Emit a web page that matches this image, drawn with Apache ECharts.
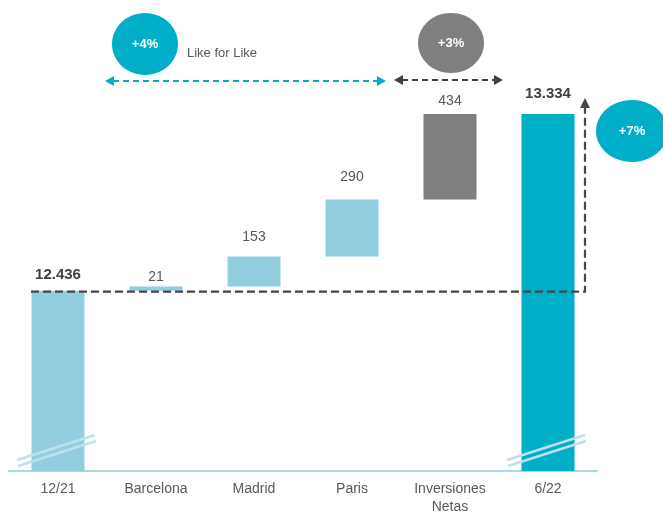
<!DOCTYPE html>
<html><head><meta charset="utf-8">
<script src="https://cdn.jsdelivr.net/npm/echarts@6/dist/echarts.min.js"></script>
<style>html,body{margin:0;padding:0;background:#fff}#c{width:663px;height:516px}</style>
</head><body><div id="c"></div>
<script>
const categories = ['12/21', 'Barcelona', 'Madrid', 'Paris', 'Inversiones\nNetas', '6/22'];
const baseValues = [0, 12436, 12457, 12610, 12900, 0];
const barValues = [12436, 21, 153, 290, 434, 13334];
const barKinds = ['total', 'lfl', 'lfl', 'lfl', 'inv', 'final'];
const badgeLabels = ['+4%', '+3%', '+7%'];
const noteLabel = 'Like for Like';

// styling (not data)
const labelGap = [8, 2, 12, 15, 6, 13];
const FONT = "'Liberation Sans', Arial, sans-serif";
const colorOf = { total: '#92cde0', lfl: '#92cde0', inv: '#7f7f7f', final: '#00aec7' };
const fmt = v => String(v).replace(/\B(?=(\d{3})+(?!\d))/g, '.');
const Y_MIN = 11520, Y_MAX = 13720;

const chart = echarts.init(document.getElementById('c'), null, { renderer: 'canvas' });
chart.setOption({
  animation: false,
  backgroundColor: '#ffffff',
  grid: { left: 9, right: 66, top: 38, bottom: 44, containLabel: false },
  xAxis: {
    type: 'category', data: categories,
    axisLine: { lineStyle: { color: '#a9d8e6', width: 2 } },
    axisTick: { show: false },
    axisLabel: { color: '#595959', fontSize: 14, fontFamily: FONT, margin: 9, lineHeight: 18, interval: 0 }
  },
  yAxis: { type: 'value', min: Y_MIN, max: Y_MAX, show: false, splitLine: { show: false } },
  series: [
    { type: 'bar', stack: 'w', data: baseValues, silent: true, barWidth: 53,
      itemStyle: { color: 'rgba(0,0,0,0)' } },
    { type: 'bar', stack: 'w', barWidth: 53,
      data: barValues.map((v, i) => {
        const k = barKinds[i];
        const isTot = (k === 'total' || k === 'final');
        return {
          value: v,
          itemStyle: { color: colorOf[k] },
          label: {
            show: true, position: 'top', distance: labelGap[i],
            formatter: fmt(v),
            color: isTot ? '#404040' : '#595959',
            fontWeight: isTot ? 'bold' : 'normal',
            fontSize: isTot ? 15 : 14, fontFamily: FONT
          }
        };
      })
    }
  ]
});

function px(i) { return chart.convertToPixel({ xAxisIndex: 0 }, i); }
function py(v) { return chart.convertToPixel({ yAxisIndex: 0 }, v); }

const yb = py(Y_MIN);
const yBase = py(barValues[0]) + 1;
const x0 = px(0), x5 = px(5);
const g = [];

// axis-break marks: two pale parallel lines
[0, 5].forEach(i => {
  const cx = px(i);
  const L = cx - 41, R = cx + 37;
  g.push({ type: 'line', z: 51, shape: { x1: L, y1: yb - 11, x2: R, y2: yb - 36 }, style: { stroke: '#bde2ed', lineWidth: 2.5 } });
  g.push({ type: 'line', z: 51, shape: { x1: L + 1, y1: yb - 5, x2: R + 1, y2: yb - 30 }, style: { stroke: '#bde2ed', lineWidth: 2.5 } });
});

// dashed L with up arrow
const xr = x5 + 37;
g.push({ type: 'polyline', z: 60, shape: { points: [[x0 - 27, yBase], [xr, yBase], [xr, 106]] },
  style: { stroke: '#474747', lineWidth: 2.2, lineDash: [8, 4], fill: null } });
g.push({ type: 'polygon', z: 60, shape: { points: [[xr, 98], [xr - 5, 108], [xr + 5, 108]] }, style: { fill: '#474747' } });

function hArrow(xa, xb, y, color) {
  g.push({ type: 'line', z: 60, shape: { x1: xa + 8, y1: y, x2: xb - 8, y2: y },
    style: { stroke: color, lineWidth: 2, lineDash: [6, 4] } });
  g.push({ type: 'polygon', z: 60, shape: { points: [[xa, y], [xa + 9, y - 5], [xa + 9, y + 5]] }, style: { fill: color } });
  g.push({ type: 'polygon', z: 60, shape: { points: [[xb, y], [xb - 9, y - 5], [xb - 9, y + 5]] }, style: { fill: color } });
}
hArrow(105, 386, 81, '#00aec7');
hArrow(394, 503, 80, '#404040');

function badge(cx, cy, rx, ry, color, text) {
  g.push({ type: 'ellipse', z: 70, shape: { cx, cy, rx, ry }, style: { fill: color } });
  g.push({ type: 'text', z: 71, x: cx, y: cy,
    style: { text, fill: '#ffffff', font: 'bold 13px ' + FONT, align: 'center', verticalAlign: 'middle' } });
}
badge(145, 44, 33, 31, '#00aec7', badgeLabels[0]);
badge(451, 43, 33, 30, '#7f7f7f', badgeLabels[1]);
badge(632, 131, 36, 31, '#00aec7', badgeLabels[2]);

g.push({ type: 'text', z: 70, x: 187, y: 53,
  style: { text: noteLabel, fill: '#595959', font: '13px ' + FONT, align: 'left', verticalAlign: 'middle' } });

chart.setOption({ graphic: g });
</script>
</body></html>
